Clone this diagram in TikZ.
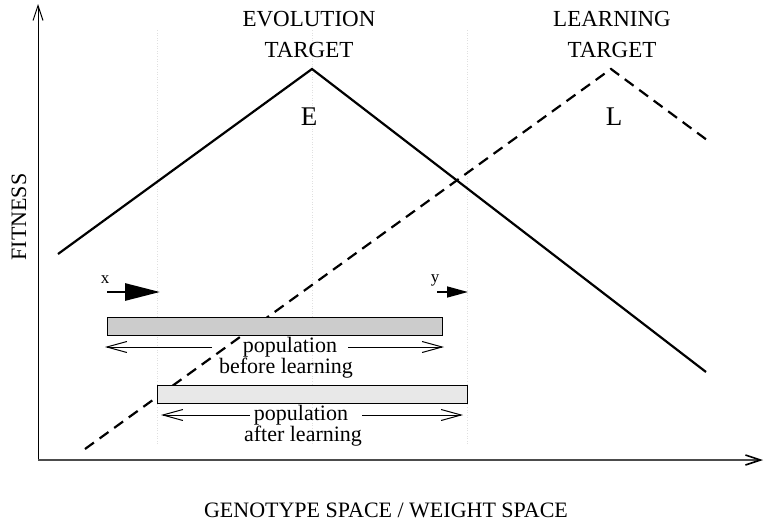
\documentclass[tikz,border=0pt]{standalone}
\usepackage{fontspec}
\setmainfont{Liberation Serif}
\usetikzlibrary{arrows.meta,positioning}

\tikzset{
  fitcurve/.style={line width=2.2pt, line join=miter},
  learncurve/.style={fitcurve, dash pattern=on 11pt off 7pt},
  axisline/.style={line width=1pt, -{Straight Barb[length=15pt,width=10pt,color=black]}},
  gridline/.style={black!12, dotted, line width=0.6pt},
  popbar/.style={draw, line width=1pt},
  spreadtip/.style={line width=1pt, -{Straight Barb[length=20pt,width=11pt]}},
  poptext/.style={anchor=base, inner sep=0pt, font=\fontsize{22}{22}\selectfont},
  targetlabel/.style={align=center, font=\fontsize{23}{31}\selectfont},
  peaklabel/.style={font=\fontsize{27}{27}\selectfont},
  shiftlabel/.style={font=\fontsize{17}{17}\selectfont},
}

\begin{document}
\begin{tikzpicture}[x=1pt,y=-1pt]
  \useasboundingbox (0,0) rectangle (764,522);

  % faint guides
  \foreach \gx in {157,312,467}
    \draw[gridline] (\gx,30) -- (\gx,445);

  % axes
  \coordinate (O) at (38,460);
  \coordinate (ytop) at (38,4);
  \coordinate (xend) at (763,460);
  \draw[axisline] (O) -- (ytop);
  \draw[axisline, black!70, line width=1.6pt] (O) -- (xend);
  \node[rotate=90, font=\fontsize{22}{22}\selectfont] (fitness) at (19,217) {FITNESS};
  \node[font=\fontsize{22}{22}\selectfont] (space) at (386,510) {GENOTYPE SPACE / WEIGHT SPACE};

  % fitness curves
  \coordinate (Estart) at (58,254);
  \coordinate (Epeak) at (312,69);
  \coordinate (Eend) at (706,372);
  \coordinate (Lstart) at (85,449);
  \coordinate (Lpeak) at (611,69);
  \coordinate (Lend) at (707,140);
  \draw[learncurve] (Lstart) -- (Lpeak) -- (Lend);
  \draw[fitcurve] (Estart) -- (Epeak) -- (Eend);

  \node[targetlabel] (evo) at (309,34) {EVOLUTION\\TARGET};
  \node[targetlabel] (learn) at (612,34) {LEARNING\\TARGET};
  \node[peaklabel] (E) at (309,117) {E};
  \node[peaklabel] (L) at (614,117) {L};

  % populations
  \draw[popbar, fill=black!20] (107,317) rectangle (442,335);
  \draw[popbar, fill=black!9] (157,385) rectangle (467,403);

  \node[poptext] (pop1) at (290,352) {population};
  \node[poptext] (before) at (286,373) {before learning};
  \node[poptext] (pop2) at (301,420) {population};
  \node[poptext] (after) at (303,441) {after learning};

  \coordinate (b1l) at (105,347);
  \coordinate (b1gl) at (212,347);
  \coordinate (b1gr) at (348,347);
  \coordinate (b1r) at (444,347);
  \coordinate (b2l) at (161,415);
  \coordinate (b2gl) at (250,415);
  \coordinate (b2gr) at (362,415);
  \coordinate (b2r) at (463,415);
  \draw[spreadtip] (b1gl) -- (b1l);
  \draw[spreadtip] (b1gr) -- (b1r);
  \draw[spreadtip] (b2gl) -- (b2l);
  \draw[spreadtip] (b2gr) -- (b2r);

  % shift arrows
  \node[shiftlabel] (xlab) at (105,280) {x};
  \node[shiftlabel] (ylab) at (435,280) {y};
  \coordinate (xa) at (107,292);
  \coordinate (xb) at (160,292);
  \coordinate (ya) at (437,292);
  \coordinate (yb) at (468,292);
  \draw[line width=2.8pt, -{Triangle[length=35pt,width=17pt]}] (xa) -- (xb);
  \draw[line width=1.5pt, -{Triangle[length=21pt,width=11pt]}] (ya) -- (yb);
\end{tikzpicture}
\end{document}
